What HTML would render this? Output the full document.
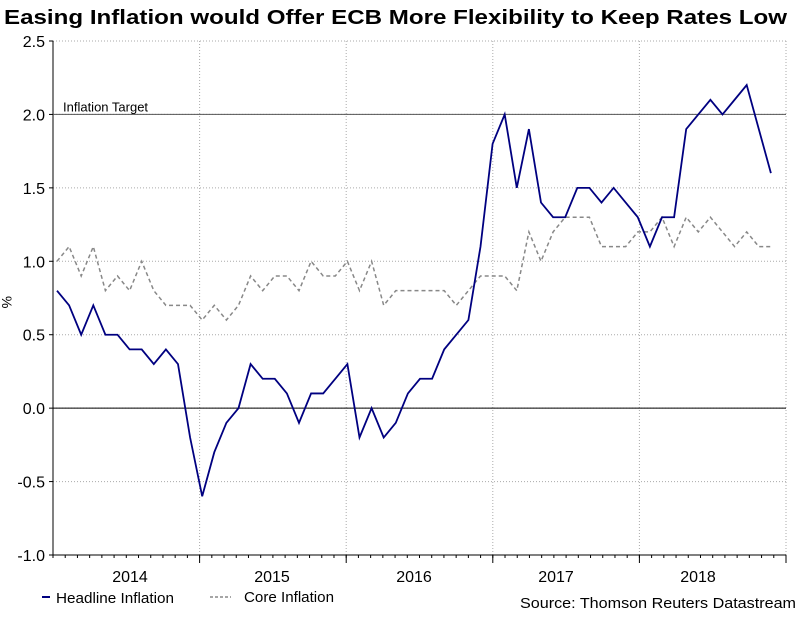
<!DOCTYPE html>
<html><head><meta charset="utf-8"><style>
body{margin:0;background:#fff;font-family:"Liberation Sans",sans-serif}
svg text{font-family:"Liberation Sans",sans-serif}
</style></head><body>
<svg width="808" height="612" xmlns="http://www.w3.org/2000/svg">
<text x="4" y="24" font-size="20" font-weight="bold" fill="#000" textLength="783" lengthAdjust="spacingAndGlyphs">Easing Inflation would Offer ECB More Flexibility to Keep Rates Low</text>
<g id="grid"></g><g id="axes"></g><g id="series"></g>
<text x="2" y="296" font-size="14" transform="rotate(90 2 296)">%</text>
<g>
<line x1="42" y1="597" x2="50" y2="597" stroke="#000080" stroke-width="2"/>
<text x="56" y="603" font-size="15" textLength="118" lengthAdjust="spacingAndGlyphs">Headline Inflation</text>
<line x1="210" y1="597" x2="231" y2="597" stroke="#888" stroke-width="1.5" stroke-dasharray="3,2"/>
<text x="244" y="602" font-size="15" textLength="90" lengthAdjust="spacingAndGlyphs">Core Inflation</text>
</g>
<text x="520" y="608" font-size="15" textLength="276" lengthAdjust="spacingAndGlyphs">Source: Thomson Reuters Datastream</text>
</svg>
<script>
const years=["2014","2015","2016","2017","2018"];
const yTicks=[2.5,2.0,1.5,1.0,0.5,0.0,-0.5,-1.0];
const yTickLabels=["2.5","2.0","1.5","1.0","0.5","0.0","-0.5","-1.0"];
const headline=[0.8,0.7,0.5,0.7,0.5,0.5,0.4,0.4,0.3,0.4,0.3,-0.2,
-0.6,-0.3,-0.1,0.0,0.3,0.2,0.2,0.1,-0.1,0.1,0.1,0.2,
0.3,-0.2,0.0,-0.2,-0.1,0.1,0.2,0.2,0.4,0.5,0.6,1.1,
1.8,2.0,1.5,1.9,1.4,1.3,1.3,1.5,1.5,1.4,1.5,1.4,
1.3,1.1,1.3,1.3,1.9,2.0,2.1,2.0,2.1,2.2,1.9,1.6];
const core=[1.0,1.1,0.9,1.1,0.8,0.9,0.8,1.0,0.8,0.7,0.7,0.7,
0.6,0.7,0.6,0.7,0.9,0.8,0.9,0.9,0.8,1.0,0.9,0.9,
1.0,0.8,1.0,0.7,0.8,0.8,0.8,0.8,0.8,0.7,0.8,0.9,
0.9,0.9,0.8,1.2,1.0,1.2,1.3,1.3,1.3,1.1,1.1,1.1,
1.2,1.2,1.3,1.1,1.3,1.2,1.3,1.2,1.1,1.2,1.1,1.1];
const NS="http://www.w3.org/2000/svg";
const L=53,R=786,T=41,B=555,ymin=-1,ymax=2.5;
const mw=(R-L)/60;
const x=i=>57+i*12.1;
const y=v=>B-(v-ymin)/(ymax-ymin)*(B-T);
function mk(tag,attrs,parent){const e=document.createElementNS(NS,tag);for(const k in attrs)e.setAttribute(k,attrs[k]);parent.appendChild(e);return e;}
const grid=document.getElementById('grid'),axes=document.getElementById('axes'),ser=document.getElementById('series');
yTicks.forEach((v,i)=>{
 const g=mk('line',{x1:L,x2:R,y1:y(v),y2:y(v),stroke:'#aaa','stroke-dasharray':'1,2'},grid);
 
 
 const t=mk('text',{x:45,y:y(v)+6,'font-size':16,'text-anchor':'end'},axes);t.textContent=yTickLabels[i];
 
 
 const tk=mk('line',{x1:L-4,x2:L,y1:y(v),y2:y(v),stroke:'#000'},axes);
 
 
});
years.forEach((yr,i)=>{
 const xb=L+(i+1)*12*mw;
 const g=mk('line',{x1:xb,x2:xb,y1:T,y2:B,stroke:'#aaa','stroke-dasharray':'1,2'},grid);
 
 
 const tk=mk('line',{x1:xb,x2:xb,y1:B,y2:B+8,stroke:'#000'},axes);
 
 
 const t=mk('text',{x:130+i*142,y:B+27,'font-size':16,'text-anchor':'middle'},axes);t.textContent=yr;
 
 
});
for(let m=0;m<60;m++){const xm=L+m*mw;const tk=mk('line',{x1:xm,x2:xm,y1:B,y2:B+3,stroke:'#000'},axes);
 
 }
let a=mk('line',{x1:L,x2:L,y1:T,y2:B,stroke:'#000'},axes);


a=mk('line',{x1:L,x2:R,y1:B,y2:B,stroke:'#000'},axes);


a=mk('line',{x1:L,x2:R,y1:y(0),y2:y(0),stroke:'#000'},axes);


a=mk('line',{x1:L,x2:R,y1:y(2),y2:y(2),stroke:'#555'},axes);


a=mk('text',{x:63,y:y(2)-3,'font-size':13},axes);a.textContent='Inflation Target';


let p=mk('polyline',{points:core.map((v,i)=>x(i)+','+y(v)).join(' '),fill:'none',stroke:'#888','stroke-width':1.5,'stroke-dasharray':'4,3'},ser);


p=mk('polyline',{points:headline.map((v,i)=>x(i)+','+y(v)).join(' '),fill:'none',stroke:'#000080','stroke-width':1.8},ser);


</script>
</body></html>
